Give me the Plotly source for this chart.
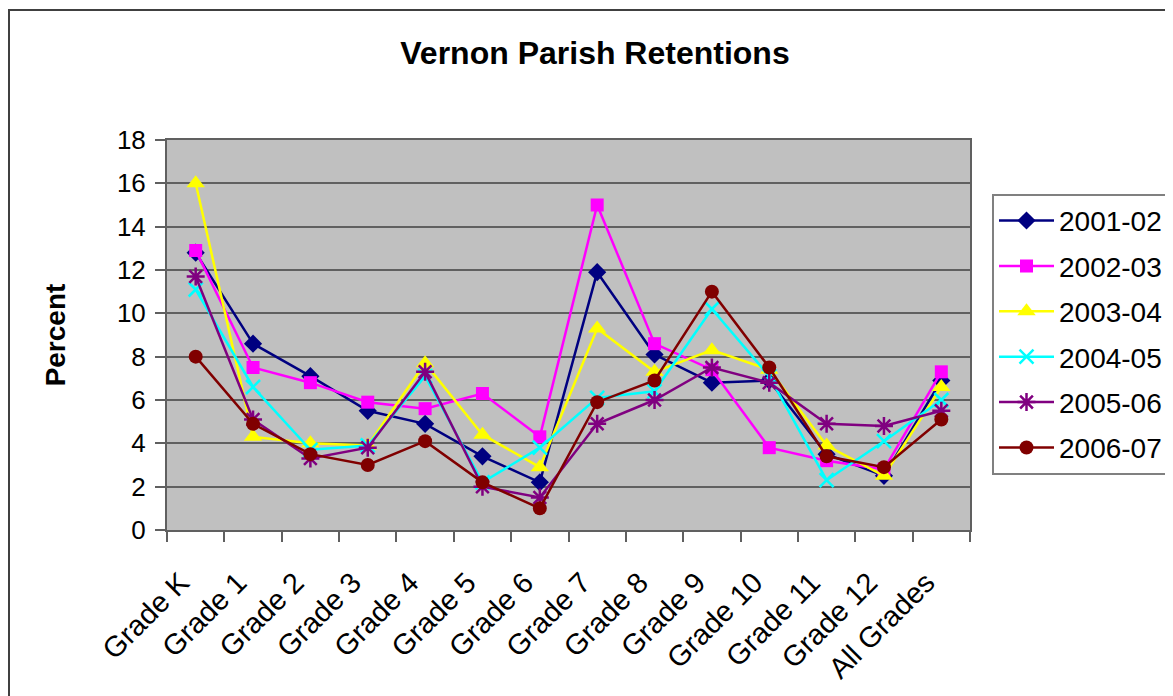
import plotly.graph_objects as go

categories = ["Grade K", "Grade 1", "Grade 2", "Grade 3", "Grade 4", "Grade 5", "Grade 6",
              "Grade 7", "Grade 8", "Grade 9", "Grade 10", "Grade 11", "Grade 12", "All Grades"]

s2001_02 = [12.8, 8.6, 7.1, 5.5, 4.9, 3.4, 2.2, 11.9, 8.1, 6.8, 6.9, 3.5, 2.5, 6.9]
s2002_03 = [12.9, 7.5, 6.8, 5.9, 5.6, 6.3, 4.3, 15.0, 8.6, 7.4, 3.8, 3.2, 2.8, 7.3]
s2003_04 = [16.0, 4.3, 4.0, 3.9, 7.7, 4.4, 2.9, 9.3, 7.3, 8.3, 7.4, 3.9, 2.5, 6.6]
s2004_05 = [11.1, 6.6, 3.7, 3.9, 7.1, 2.2, 3.8, 6.1, 6.4, 10.2, 7.1, 2.3, 4.1, 6.0]
s2005_06 = [11.7, 5.1, 3.3, 3.8, 7.3, 2.0, 1.5, 4.9, 6.0, 7.5, 6.8, 4.9, 4.8, 5.5]
s2006_07 = [8.0, 4.9, 3.5, 3.0, 4.1, 2.2, 1.0, 5.9, 6.9, 11.0, 7.5, 3.4, 2.9, 5.1]

series_names = ["2001-02", "2002-03", "2003-04", "2004-05", "2005-06", "2006-07"]
series_values = [s2001_02, s2002_03, s2003_04, s2004_05, s2005_06, s2006_07]
colors = ["#000080", "#FF00FF", "#FFFF00", "#00FFFF", "#800080", "#800000"]
symbols = ["diamond", "square", "triangle-up", "x-thin-open", "asterisk-open", "circle"]
sizes = [14, 13, 16, 14, 15, 14]

FONT = "Arial, Liberation Sans, sans-serif"

fig = go.Figure()
for i, (name, vals) in enumerate(zip(series_names, series_values)):
    thin = symbols[i] in ("x-thin-open", "asterisk-open")
    fig.add_trace(go.Scatter(
        x=categories, y=vals, name=name, mode="lines+markers",
        legendgroup=name,
        line=dict(color=colors[i], width=2.5),
        marker=dict(symbol=symbols[i], size=sizes[i], color=colors[i],
                    line=dict(color=colors[i], width=2.5 if thin else 0)),
    ))

# page body has an 8px margin, so the figure is sized/offset to compensate
fig.update_layout(
    width=1165, height=688,
    margin=dict(l=159, r=203, t=132, b=166, autoexpand=False),
    paper_bgcolor="white",
    plot_bgcolor="#C0C0C0",
    font=dict(family=FONT, color="black", size=26),
    title=dict(text="<b>Vernon Parish Retentions</b>", x=587 / 1165, xref="container",
               xanchor="center", y=1 - 45 / 688, yanchor="middle",
               font=dict(size=32, family=FONT, color="black")),
    showlegend=True,
    legend=dict(x=1.0274, y=0.862, xanchor="left", yanchor="top",
                bgcolor="white", bordercolor="#808080", borderwidth=2,
                font=dict(size=28, family=FONT, color="black"),
                traceorder="grouped", tracegroupgap=6, itemwidth=55),
    shapes=[dict(type="rect", xref="paper", yref="paper",
                 x0=(1 - 159) / 803, x1=(1185 - 167) / 803,
                 y0=(530 - 710) / 390, y1=(530 - 10) / 390,
                 line=dict(color="#404040", width=2), layer="below")],
)

fig.update_xaxes(
    type="category", range=[-0.5, len(categories) - 0.5],
    tickson="boundaries", ticks="outside", ticklen=10,
    tickcolor="#606060", tickwidth=2, tickangle=-45,
    ticklabelstandoff=22, ticklabelshift=-15,
    showline=True, linecolor="#606060", linewidth=2, mirror=True,
    showgrid=False, tickfont=dict(size=29, family=FONT, color="black"),
)
fig.update_yaxes(
    range=[0, 18], dtick=2, tick0=0, ticks="outside", ticklen=10,
    tickcolor="#606060", tickwidth=2, ticklabelstandoff=4,
    showline=True, linecolor="#606060", linewidth=2, mirror=True,
    showgrid=True, gridcolor="#606060", gridwidth=1.5, zeroline=False,
    tickfont=dict(size=26, family=FONT, color="black"),
    title=dict(text="<b>Percent</b>", standoff=43,
               font=dict(size=28, family=FONT, color="black")),
)

fig.write_html("out.html")
